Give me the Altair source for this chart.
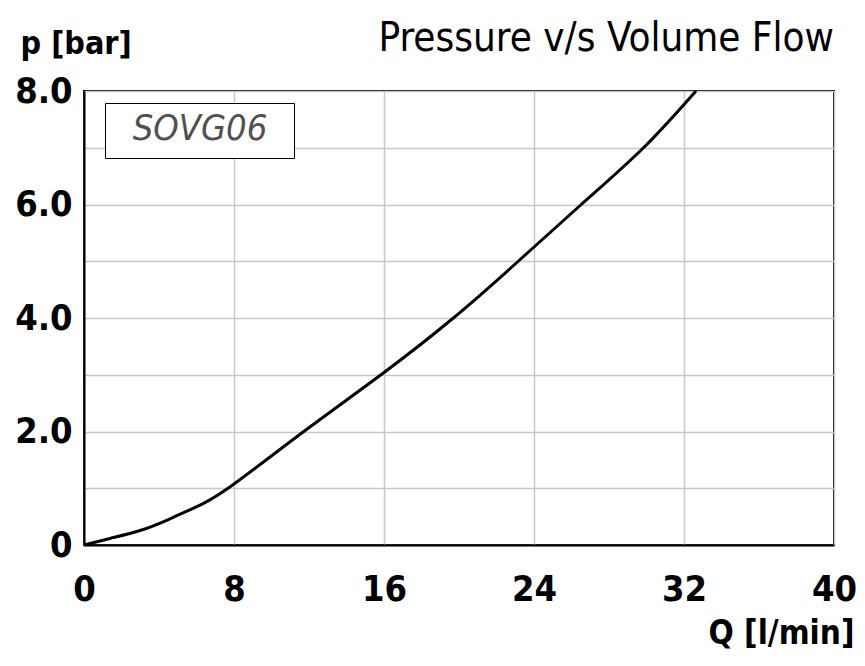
import altair as alt
import pandas as pd

# Curve
flow_lpm = [0, 1.44, 3.03, 4.44, 5.85, 7.68, 11.72, 15.84, 19.70, 23.16, 26.52, 29.84, 32.64]
pressure_bar = [0, 0.12, 0.26, 0.44, 0.65, 1.0, 2.0, 3.0, 4.0, 5.0, 6.0, 7.0, 8.0]
series_name = "SOVG06"

x_ticks = [0, 8, 16, 24, 32, 40]
y_ticks = [0, 1, 2, 3, 4, 5, 6, 7, 8]

df = pd.DataFrame({"Q": flow_lpm, "p": pressure_bar, "series": series_name})

FONT = "DejaVu Sans Condensed, DejaVu Sans, sans-serif"

chart = (
    alt.Chart(df)
    .mark_line(strokeWidth=3, interpolate="natural")
    .encode(
        x=alt.X(
            "Q:Q",
            scale=alt.Scale(domain=[0, 40], nice=False),
            axis=alt.Axis(
                values=x_ticks,
                title="Q [l/min]",
                titleAngle=0,
                titleAlign="right",
                titleBaseline="middle",
                titleX=770,
                titleY=88,
                titleFont=FONT,
                titleFontSize=33,
                titleFontWeight="bold",
                titleColor="black",
                labelFont=FONT,
                labelFontSize=36,
                labelFontWeight="bold",
                labelColor="black",
                labelPadding=27,
                labelFlush=False,
                ticks=False,
                domainColor="black",
                domainWidth=2,
                gridColor="#c8c8c8",
                gridWidth=1.5,
            ),
        ),
        y=alt.Y(
            "p:Q",
            scale=alt.Scale(domain=[0, 8], nice=False),
            axis=alt.Axis(
                values=y_ticks,
                labelExpr="datum.value == 0 ? '0' : (datum.value % 2 == 0 ? format(datum.value, '.1f') : '')",
                title="p [bar]",
                titleAngle=0,
                titleAlign="left",
                titleBaseline="middle",
                titleX=-64,
                titleY=-48,
                titleFont=FONT,
                titleFontSize=32,
                titleFontWeight="bold",
                titleColor="black",
                labelFont=FONT,
                labelFontSize=36,
                labelFontWeight="bold",
                labelColor="black",
                labelPadding=12,
                labelFlush=False,
                ticks=False,
                domainColor="black",
                domainWidth=2,
                gridColor="#c8c8c8",
                gridWidth=1.5,
            ),
        ),
        color=alt.Color(
            "series:N",
            scale=alt.Scale(range=["black"]),
            legend=alt.Legend(
                title=series_name,
                titleFont=FONT,
                titleFontSize=36,
                titleFontStyle="italic",
                titleFontWeight="normal",
                titleColor="#505050",
                titlePadding=0,
                titleLimit=400,
                titleAnchor="middle",
                orient="none",
                legendX=21,
                legendY=12,
                symbolType="square",
                symbolSize=0,
                symbolOpacity=0,
                symbolStrokeWidth=0,
                labelExpr="''",
                labelFontSize=1,
                labelOffset=170,
                padding=9,
                strokeColor="black",
                fillColor="white",
            ),
        ),
    )
    .properties(
        width=750,
        height=454,
        autosize=alt.AutoSizeParams(type="none"),
        padding={"left": 76, "top": 83, "right": 23, "bottom": 108},
        title=alt.TitleParams(
            "Pressure v/s Volume Flow",
            anchor="end",
            frame="group",
            font=FONT,
            fontSize=40,
            fontWeight="normal",
            color="black",
            baseline="alphabetic",
            offset=0,
            dy=64,
        ),
    )
    .configure_view(stroke="black", strokeWidth=2)
)

chart.save("out.html", embed_options={"renderer": "svg", "actions": False})
